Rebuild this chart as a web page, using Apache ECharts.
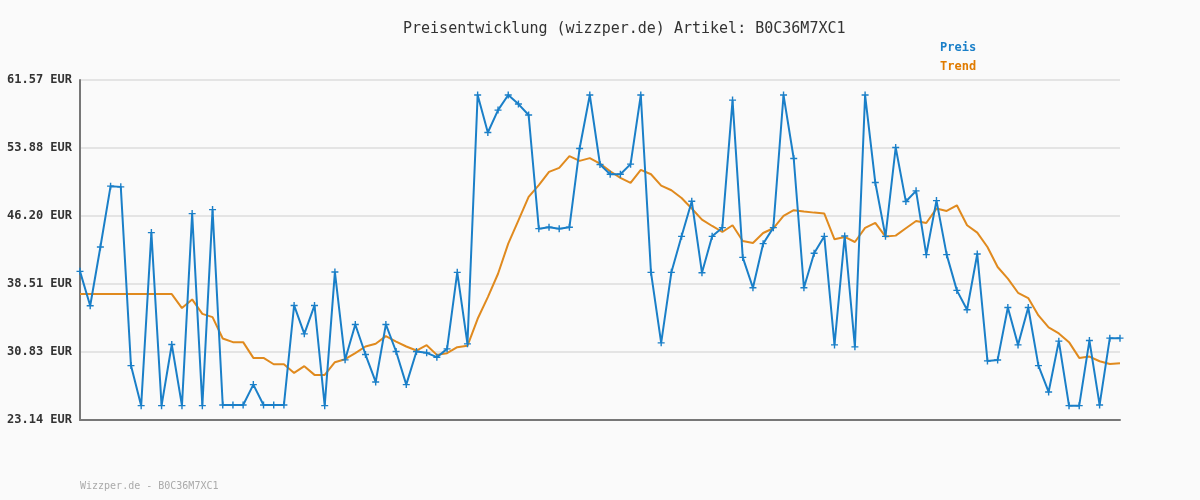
<!DOCTYPE html>
<html>
<head>
<meta charset="utf-8">
<script src="https://cdn.jsdelivr.net/npm/echarts@6/dist/echarts.min.js"></script>
<style>
  html, body { margin: 0; padding: 0; background: #fafafa; }
  #main { width: 1200px; height: 500px; }
</style>
</head>
<body>
<div id="main"></div>
<script>
// Preisverlauf
var preis = [
  39.94, 36.05, 42.69, 49.57, 49.49, 29.29, 24.76, 44.32, 24.76, 31.67,
  24.76, 46.47, 24.76, 46.92, 24.84, 24.84, 24.84, 27.14, 24.84, 24.84,
  24.84, 36.09, 32.88, 36.09, 24.76, 39.86, 29.94, 33.94, 30.54, 27.44,
  33.94, 30.88, 27.14, 30.88, 30.73, 30.24, 31.18, 39.83, 31.75, 59.87,
  55.64, 58.17, 59.87, 58.85, 57.61, 44.77, 44.92, 44.77, 44.92, 53.83,
  59.87, 52.02, 50.92, 50.92, 52.06, 59.87, 39.83, 31.86, 39.83, 43.90,
  47.87, 39.79, 43.90, 44.88, 59.30, 41.52, 38.09, 43.07, 44.88, 59.87,
  52.70, 38.09, 41.98, 43.90, 31.63, 43.94, 31.41, 59.87, 49.98, 43.90,
  53.94, 47.83, 49.04, 41.83, 47.94, 41.83, 37.79, 35.60, 41.90, 29.82,
  29.93, 35.86, 31.63, 35.86, 29.29, 26.31, 32.05, 24.76, 24.76, 32.12,
  24.84, 32.39, 32.39
];
// Trendlinie
var trend = [
  37.37, 37.37, 37.37, 37.37, 37.37, 37.37, 37.37, 37.37, 37.37, 37.37,
  35.79, 36.77, 35.14, 34.77, 32.35, 31.94, 31.94, 30.16, 30.16, 29.44,
  29.44, 28.46, 29.22, 28.24, 28.24, 29.67, 30.01, 30.69, 31.45, 31.75,
  32.62, 32.01, 31.45, 30.99, 31.60, 30.50, 30.69, 31.37, 31.52, 34.58,
  37.03, 39.67, 43.07, 45.71, 48.36, 49.68, 51.19, 51.64, 52.96, 52.43,
  52.74, 52.13, 51.26, 50.51, 49.94, 51.42, 50.92, 49.64, 49.11, 48.24,
  47.04, 45.79, 45.07, 44.39, 45.15, 43.37, 43.15, 44.28, 44.81, 46.20,
  46.85, 46.70, 46.58, 46.47, 43.56, 43.83, 43.26, 44.85, 45.41, 43.87,
  43.98, 44.81, 45.64, 45.41, 47.04, 46.77, 47.41, 45.15, 44.32, 42.69,
  40.43, 39.11, 37.52, 36.92, 34.96, 33.60, 32.92, 31.94, 30.16, 30.31,
  29.78, 29.48, 29.56
];
var yTicks = ['23.14', '30.83', '38.51', '46.20', '53.88', '61.57'];

var categories = preis.map(function (v, i) { return String(i + 1); });
var yMin = parseFloat(yTicks[0]);
var yMax = parseFloat(yTicks[yTicks.length - 1]);
var yStep = (yMax - yMin) / (yTicks.length - 1);

var mono = '"DejaVu Sans Mono", "Liberation Mono", monospace';
var plus = 'path://M2,0H3V2H5V3H3V5H2V3H0V2H2Z';

var myChart = echarts.init(document.getElementById('main'));
myChart.setOption({
  backgroundColor: '#fafafa',
  animation: false,
  title: {
    text: 'Preisentwicklung (wizzper.de) Artikel: B0C36M7XC1',
    left: 398,
    top: 17,
    textStyle: { fontFamily: mono, fontSize: 15, fontWeight: 'normal', color: '#333' }
  },
  legend: {
    orient: 'vertical',
    left: 930,
    top: 37,
    itemGap: 7,
    itemWidth: 0,
    itemHeight: 0,
    icon: 'rect',
    data: [
      { name: 'Preis', textStyle: { color: '#1a7fc8' } },
      { name: 'Trend', textStyle: { color: '#e07b00' } }
    ],
    textStyle: { fontFamily: mono, fontSize: 12, fontWeight: 'bold' }
  },
  grid: { left: 80, right: 80, top: 80, bottom: 80 },
  xAxis: {
    type: 'category',
    data: categories,
    boundaryGap: false,
    axisLine: { lineStyle: { color: '#777', width: 2 } },
    axisTick: { show: false },
    axisLabel: { show: false },
    splitLine: { show: false }
  },
  yAxis: {
    type: 'value',
    min: yMin,
    max: yMax,
    interval: yStep,
    axisLine: { show: true, lineStyle: { color: '#777', width: 2 } },
    axisTick: { show: false },
    axisLabel: {
      margin: 8,
      fontFamily: mono,
      fontSize: 12,
      fontWeight: 'bold',
      color: '#333',
      formatter: function (v) {
        var idx = Math.round((v - yMin) / yStep);
        return (yTicks[idx] || v.toFixed(2)) + ' EUR';
      }
    },
    splitLine: { lineStyle: { color: '#e4e4e4', width: 2 } }
  },
  series: [
    {
      name: 'Preis',
      type: 'line',
      data: preis,
      symbol: plus,
      symbolSize: 7,
      showSymbol: true,
      showAllSymbol: true,
      color: '#1a7fc8',
      lineStyle: { width: 2, color: '#1a7fc8' },
      itemStyle: { color: '#1a7fc8' },
      z: 3
    },
    {
      name: 'Trend',
      type: 'line',
      data: trend,
      symbol: 'none',
      color: '#e07b00',
      lineStyle: { width: 2, color: '#e08a1e' },
      z: 2
    }
  ],
  graphic: [
    {
      type: 'text',
      left: 80,
      top: 481,
      style: { text: 'Wizzper.de - B0C36M7XC1', font: '10px ' + mono, fill: '#aaa' }
    }
  ]
});
</script>
</body>
</html>
